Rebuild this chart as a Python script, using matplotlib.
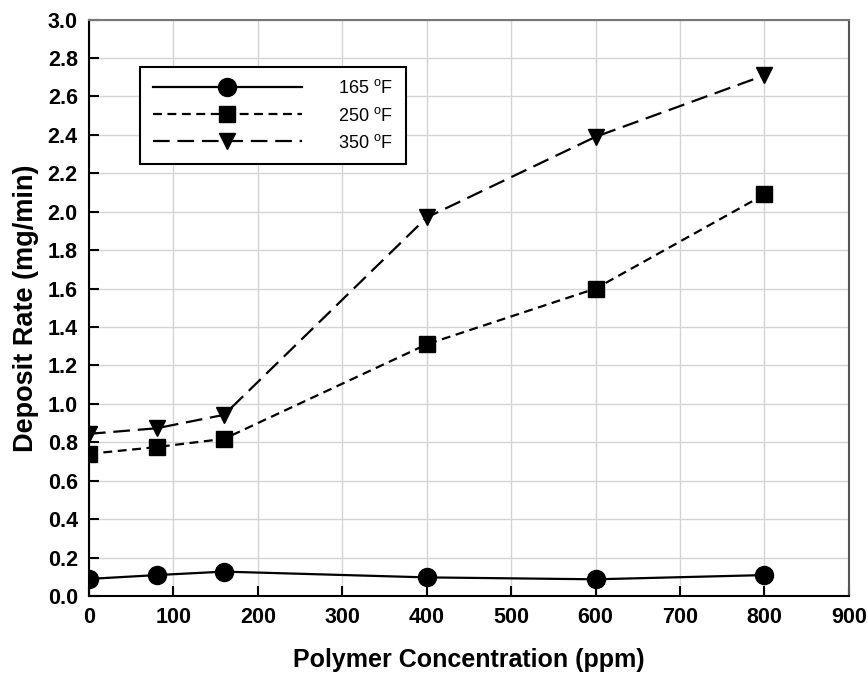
import numpy as np
import matplotlib
matplotlib.use('Agg')
import matplotlib.pyplot as plt

plt.rcParams['font.family'] = ['Liberation Sans', 'DejaVu Sans']
plt.rcParams['mathtext.fontset'] = 'custom'
plt.rcParams['mathtext.rm'] = 'Liberation Sans'

conc = [0, 80, 160, 400, 600, 800]
rate_165 = [0.089, 0.109, 0.127, 0.097, 0.087, 0.109]
rate_250 = [0.74, 0.775, 0.818, 1.31, 1.60, 2.09]
rate_350 = [0.844, 0.873, 0.943, 1.97, 2.39, 2.71]
labels = ['165 $^\\mathrm{o}$F', '250 $^\\mathrm{o}$F', '350 $^\\mathrm{o}$F']

fig = plt.figure(figsize=(8.68, 6.75), dpi=100)
ax = fig.add_axes([0.1025, 0.117, 0.8755, 0.854])

ax.plot(conc, rate_165, color='black', lw=1.6, marker='o', ms=13, label=labels[0])
ax.plot(conc, rate_250, color='black', lw=1.6, dashes=(4, 2.5), marker='s', ms=11, label=labels[1])
ax.plot(conc, rate_350, color='black', lw=1.6, dashes=(7.5, 3.5), marker='v', ms=12, label=labels[2])

ax.set_xlim(0, 900)
ax.set_ylim(0, 3.0)
ax.set_xticks(np.arange(0, 901, 100))
ax.set_yticks(np.arange(0, 3.01, 0.2))
ax.yaxis.set_major_formatter(matplotlib.ticker.FormatStrFormatter('%.1f'))
ax.grid(True, color='#d4d4d4', lw=1)
ax.set_axisbelow(True)
ax.tick_params(direction='in', length=7, width=1.5, labelsize=15.5, pad=8)
for lab in ax.get_xticklabels() + ax.get_yticklabels():
    lab.set_fontweight('bold')
for s in ax.spines.values():
    s.set_linewidth(1.5)
ax.spines['top'].set_color('#777777')
ax.spines['right'].set_color('#555555')

ax.set_xlabel('Polymer Concentration (ppm)', fontsize=18, fontweight='bold', labelpad=14)
ax.set_ylabel('Deposit Rate (mg/min)', fontsize=19.5, fontweight='bold', labelpad=6)

leg = ax.legend(loc='upper left', bbox_to_anchor=(0.067, 0.918), borderaxespad=0,
                fancybox=False, framealpha=1, edgecolor='black', fontsize=13,
                handlelength=8.3, handletextpad=2.0, borderpad=0.7, labelspacing=0.5)
leg.get_frame().set_linewidth(1.5)

fig.savefig('out.png', dpi=100)
